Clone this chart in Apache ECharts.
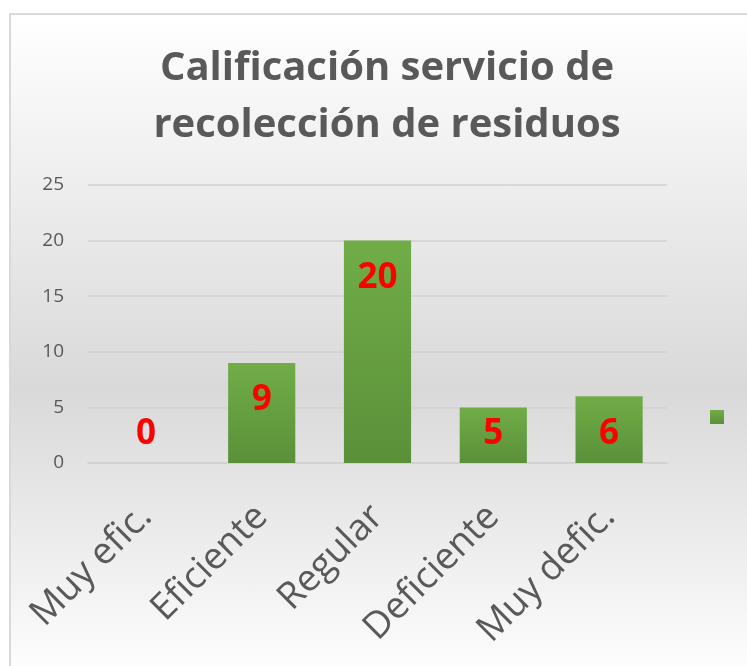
<!DOCTYPE html>
<html>
<head>
<meta charset="utf-8">
<script src="https://cdn.jsdelivr.net/npm/echarts@6/dist/echarts.min.js"></script>
<style>
  html, body { margin: 0; padding: 0; width: 747px; height: 666px; overflow: hidden; background: #ffffff; }
  #bg { position: absolute; left: 9px; top: 13px; width: 760px; height: 670px;
        border: 2px solid #d9d9d9;
        background: linear-gradient(to bottom, #ffffff 0%, #d9d9d9 56%, #ffffff 100%); }
  #chart { position: absolute; left: 0; top: 0; width: 747px; height: 666px; }
</style>
</head>
<body>
<div id="bg"></div>
<div id="chart"></div>
<script>
const titleLines = ['Calificación servicio de', 'recolección de residuos'];
const categories = ['Muy efic.', 'Eficiente', 'Regular', 'Deficiente', 'Muy defic.'];
const values = [0, 9, 20, 5, 6];
const yTicks = { min: 0, max: 25, interval: 5 };
const seriesName = 'Serie1';

const chart = echarts.init(document.getElementById('chart'), null, { renderer: 'canvas' });

const dataItems = values.map(v => ({
  value: v,
  label: v < 6
    ? { position: 'insideBottom', distance: 11 }
    : { position: 'insideTop', distance: 20 }
}));

chart.setOption({
  backgroundColor: 'transparent',
  animation: false,
  title: {
    text: titleLines.join('\n'),
    left: 382,
    textAlign: 'center',
    top: 35,
    textStyle: {
      fontFamily: 'Open Sans',
      fontWeight: 'bold',
      fontSize: 40,
      lineHeight: 57,
      color: '#595959'
    }
  },
  legend: {
    left: 705,
    top: 405,
    itemWidth: 14,
    itemHeight: 14,
    icon: 'rect',
    formatter: () => '',
    data: [seriesName]
  },
  grid: { left: 88, right: 80, top: 185, bottom: 203, containLabel: false },
  xAxis: {
    type: 'category',
    data: categories,
    axisLine: { show: true, lineStyle: { color: '#cfcfcf', width: 1.5 } },
    axisTick: { show: false },
    axisLabel: {
      rotate: 45,
      margin: 48,
      interval: 0,
      fontFamily: 'Open Sans',
      fontSize: 37,
      color: '#595959'
    }
  },
  yAxis: {
    type: 'value',
    min: yTicks.min,
    max: yTicks.max,
    interval: yTicks.interval,
    axisLine: { show: false },
    axisTick: { show: false },
    splitLine: { lineStyle: { color: '#d2d2d2', width: 1.5 } },
    axisLabel: {
      margin: 24,
      fontFamily: 'Open Sans',
      fontSize: 19,
      color: '#595959'
    }
  },
  series: [{
    name: seriesName,
    type: 'bar',
    data: dataItems,
    barWidth: '58%',
    itemStyle: {
      color: new echarts.graphic.LinearGradient(0, 0, 0, 1, [
        { offset: 0, color: '#70ad47' },
        { offset: 1, color: '#5b903a' }
      ])
    },
    label: {
      show: true,
      fontFamily: 'Open Sans',
      fontWeight: 'bold',
      fontSize: 35,
      color: '#ff0000'
    }
  }]
});
</script>
</body>
</html>
